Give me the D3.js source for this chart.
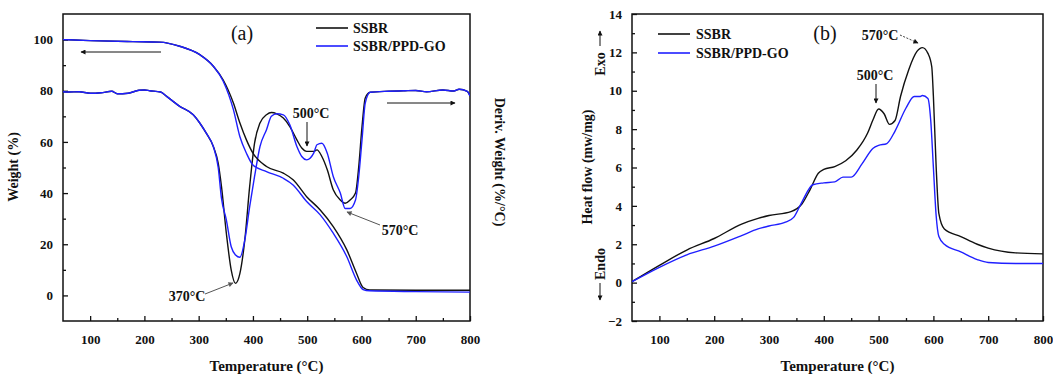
<!DOCTYPE html>
<html><head><meta charset="utf-8">
<script src="https://cdn.jsdelivr.net/npm/d3@7"></script>
<style>
body{margin:0;background:#fff;}
svg{display:block;font-family:"Liberation Serif","Times New Roman",serif;}
</style></head>
<body><svg id="c" width="1053" height="374"></svg>
<script>
// ---------- Data ----------
// Panel (a) TGA weight (%)
const tgaTemps = [50,100,179,228,265,302,327,345,364,376,388,400,425,456,474,499,524,548,573,591,603,615,700,800];
const tgaSSBR  = [100,99.6,99.2,99,97.4,94.1,89.6,84.3,75.2,67.4,60.8,55.6,50.4,47.8,45.2,38.6,33.4,26.9,17.8,8.6,3.1,2.1,2.0,2.0];
const tgaPPD   = [100,99.6,99.2,99,97.4,94.1,89.6,83.8,72.6,62,55.6,51,48.4,45.8,43.2,36.7,31.5,24.3,15.1,6,2.3,1.8,1.5,1.3];
// Panel (a) DTG (plotted on the same scale, baseline ~80)
const dtgTemps = [50,60,80,100,120,140,150,170,190,200,210,230,241,265,290,302,314,327,336,342,351,360,368,376,385,394,403,413,425,434,444,456,468,481,490,499,512,518,527,537,548,561,570,579,589,595,601,607,616,650,680,700,720,750,770,780,795,800];
const dtgSSBR  = [79.6,79.5,79.6,79,79.2,79.8,78.8,79,80.2,80.3,80,79.5,77.8,73.9,70.6,67.4,63.4,58.2,51.7,42.6,24.3,9.9,4.7,8.6,21.7,42.6,59.5,67.4,70.6,71.5,71,69.3,66,60.8,57.6,56.3,56.3,56.9,54.3,49.1,41.3,37.3,36,37.3,40,50.4,66,77.2,79.4,79.8,80,80.1,79.6,80.3,79.9,80.6,79.8,78];
const dtgPPD   = [79.6,79.5,79.6,79,79.2,79.8,78.8,79,80.2,80.3,80,79.5,77.8,73.9,70.6,67.4,63.4,58.2,50,38,29.5,19,15.8,14.9,21.7,34.7,46.5,58.2,64.8,70,71,70.6,66.7,58.2,54.3,53,55.6,58.9,59.5,55.6,46.5,40,34,34,37.3,46.5,60.8,75.2,79.4,79.8,80,80.1,79.6,80.3,79.9,80.6,79.8,78];
// Panel (b) DSC heat flow (mw/mg)
const dscTempsA = [50,100,150,200,250,280,300,340,360,375,390,400,420,440,460,480,490,500,510,520,530,540,555,570,580,590,597,600,605,610,620,650,680,700,750,800];
const dscSSBR   = [0.05,0.9,1.7,2.3,3.05,3.35,3.5,3.7,4.1,4.85,5.7,5.9,6.05,6.35,6.9,7.8,8.5,9.05,8.8,8.25,8.45,9.7,11.1,12.05,12.25,11.95,11.25,9.7,6.05,3.6,2.8,2.4,2.0,1.8,1.55,1.5];
const dscTempsB = [50,100,150,200,250,280,300,330,345,360,380,400,420,435,450,470,490,500,515,530,550,565,575,580,590,595,600,605,610,620,650,680,700,750,800];
const dscPPD    = [0.05,0.8,1.45,1.9,2.45,2.8,2.95,3.15,3.4,4.2,5.1,5.2,5.25,5.5,5.5,6.2,7.0,7.15,7.25,7.9,9.1,9.7,9.7,9.75,9.6,8.5,6,3.5,2.4,2.0,1.6,1.2,1.05,1.0,1.0];
const seriesNames = ["SSBR","SSBR/PPD-GO"];
const xTicks = [100,200,300,400,500,600,700,800];
const yTicksA = [0,20,40,60,80,100];
const yTicksB = [-2,0,2,4,6,8,10,12,14];

// ---------- Drawing ----------
const svg = d3.select("#c");
const BLACK="#111", BLUE="#1f1fff";
const defs = svg.append("defs");
function marker(id,color){
  defs.append("marker").attr("id",id).attr("viewBox","0 0 10 10").attr("refX",9).attr("refY",5)
   .attr("markerWidth",7).attr("markerHeight",5).attr("markerUnits","userSpaceOnUse").attr("orient","auto")
   .append("path").attr("d","M0,0L10,5L0,10z").attr("fill",color);
}
marker("ab","#111"); marker("ag","#555");

function panel(o){
  const g = svg.append("g");
  const x = d3.scaleLinear().domain([50,800]).range([o.l,o.r]);
  const y = d3.scaleLinear().domain(o.yd).range([o.b,o.t]);
  const xa = g.append("g").attr("transform",`translate(0,${o.b})`)
    .call(d3.axisBottom(x).tickValues(xTicks).tickSize(-5).tickPadding(14).tickFormat(d3.format("d")));
  xa.append("g").call(d3.axisBottom(x).tickValues(d3.range(150,800,100)).tickSize(-3).tickFormat(""));
  const ya = g.append("g").attr("transform",`translate(${o.l},0)`)
    .call(d3.axisLeft(y).tickValues(o.yt).tickSize(-5).tickPadding(10).tickFormat(d3.format("d")));
  ya.append("g").call(d3.axisLeft(y).tickValues(o.ym).tickSize(-3).tickFormat(""));
  g.selectAll(".domain").remove();
  g.selectAll(".tick line").attr("stroke","#111").attr("stroke-width",1.3);
  g.selectAll(".tick text").attr("font-family","Liberation Serif").attr("font-weight","bold").attr("font-size",13).attr("fill","#111");
  g.append("rect").attr("x",o.l).attr("y",o.t).attr("width",o.r-o.l).attr("height",o.b-o.t)
    .attr("fill","none").attr("stroke","#111").attr("stroke-width",1.5);
  const line = d3.line().curve(d3.curveMonotoneX).x(d=>x(d[0])).y(d=>y(d[1]));
  const clip = "clip"+o.id;
  defs.append("clipPath").attr("id",clip).append("rect").attr("x",o.l).attr("y",o.t).attr("width",o.r-o.l).attr("height",o.b-o.t);
  const cg = g.append("g").attr("clip-path",`url(#${clip})`);
  o.series.forEach(s=>{
    cg.append("path").datum(d3.zip(s.t,s.v)).attr("d",line).attr("fill","none")
      .attr("stroke",s.c).attr("stroke-width",1.4);
  });
  g.append("text").attr("x",(o.l+o.r)/2).attr("y",371).attr("text-anchor","middle")
    .attr("font-weight","bold").attr("font-size",15).attr("fill","#111").text("Temperature (°C)");
  return {g,x,y};
}

const A = panel({id:"a",l:63,r:470,t:14,b:321,yd:[-10,110],yt:yTicksA,ym:[10,30,50,70,90],
  series:[{t:dtgTemps,v:dtgSSBR,c:BLACK},{t:dtgTemps,v:dtgPPD,c:BLUE},{t:tgaTemps,v:tgaSSBR,c:BLACK},{t:tgaTemps,v:tgaPPD,c:BLUE}]});
const B = panel({id:"b",l:632,r:1043,t:14,b:321,yd:[-2,14],yt:yTicksB,ym:[-1,1,3,5,7,9,11,13],
  series:[{t:dscTempsA,v:dscSSBR,c:BLACK},{t:dscTempsB,v:dscPPD,c:BLUE}]});

function txt(x,y,s,opt={}){
  const t = svg.append("text").attr("x",x).attr("y",y).attr("text-anchor",opt.a||"start")
    .attr("font-weight",opt.w||"bold").attr("font-size",opt.s||14).attr("fill","#111").text(s);
  if(opt.r) t.attr("transform",`rotate(${opt.r},${x},${y})`);
  return t;
}
function arrow(x1,y1,x2,y2,m,opt={}){
  svg.append("line").attr("x1",x1).attr("y1",y1).attr("x2",x2).attr("y2",y2)
    .attr("stroke",m==="ag"?"#555":"#111").attr("stroke-width",opt.w||1)
    .attr("stroke-dasharray",opt.d||null).attr("marker-end",`url(#${m})`);
}
// Panel a texts
txt(18,167,"Weight (%)",{a:"middle",r:-90,s:14});
txt(495,162,"Deriv. Weight  (%/°C)",{a:"middle",r:90,s:14});
txt(242,40,"(a)",{a:"middle",w:"normal",s:20});
// legends
[[316,348,28,353,18],[658,690,34,696,19]].forEach(([x1,x2,y0,tx,dy])=>{
  seriesNames.forEach((n,i)=>{
    const yy = y0 + i*dy;
    svg.append("line").attr("x1",x1).attr("x2",x2).attr("y1",yy).attr("y2",yy).attr("stroke",i?BLUE:BLACK).attr("stroke-width",1.6);
    txt(tx,yy+5,n,{s:14});
  });
});
arrow(161,52,81,52,"ab");
arrow(387,103,455,103,"ab");
txt(311,118,"500°C",{a:"middle",s:14});
arrow(307,122,307,146,"ab");
txt(400,235,"570°C",{a:"middle",s:14});
arrow(380,225,347,212,"ag");
txt(187,301,"370°C",{a:"middle",s:14});
arrow(205,294,233,283,"ag");
// Panel b texts
txt(592,167,"Heat flow (mw/mg)",{a:"middle",r:-90,s:14});
txt(605,64,"Exo",{a:"middle",r:-90,s:14});
arrow(600,46,600,31,"ab");
txt(605,264,"Endo",{a:"middle",r:-90,s:14});
arrow(600,283,600,300,"ab");
txt(825,40,"(b)",{a:"middle",w:"normal",s:20});
txt(880,40,"570°C",{a:"middle",s:14});
arrow(900,35,918,43,"ab",{d:"2,1.5",w:0.8});
txt(875,80,"500°C",{a:"middle",s:14});
arrow(876,84,876,103,"ab");
</script></body></html>
